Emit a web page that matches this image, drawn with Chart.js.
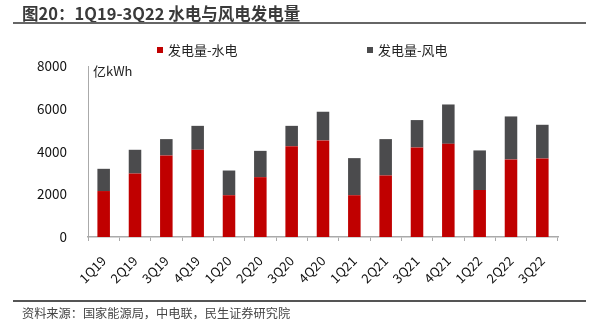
<!DOCTYPE html>
<html>
<head>
<meta charset="utf-8">
<script src="https://cdn.jsdelivr.net/npm/chart.js@4"></script>
<style>
  html, body { margin: 0; padding: 0; background: #fff; }
  body { width: 594px; height: 327px; position: relative; overflow: hidden;
         font-family: "Noto Sans CJK SC", "Noto Sans", sans-serif; }
  #wrap { position: absolute; left: 0; top: 0; width: 594px; height: 327px; }
  .title { position: absolute; left: 22px; top: 1px; font-size: 16.5px; font-weight: bold; color: #3a3a3a; white-space: nowrap; }
  .rule { position: absolute; left: 13px; width: 573px; background: #666; }
  .source { position: absolute; left: 22px; top: 304px; font-size: 12.2px; color: #444; white-space: nowrap; }
  .unit { position: absolute; left: 93px; top: 61px; font-size: 13px; color: #222; }
  .legend { position: absolute; top: 40px; font-size: 13px; color: #222; white-space: nowrap; }
  .legend i { display: inline-block; width: 6px; height: 6px; margin-right: 5px; vertical-align: 2px; }
</style>
</head>
<body>
<div id="wrap"><canvas id="myChart" width="594" height="327"></canvas></div>
<div class="title">图20：1Q19-3Q22 水电与风电发电量</div>
<div class="rule" style="top:22px;height:2px"></div>
<div class="legend" style="left:157px"><i style="background:#C00000"></i>发电量-水电</div>
<div class="legend" style="left:367px"><i style="background:#4B4B4D"></i>发电量-风电</div>
<div class="unit">亿kWh</div>
<div class="rule" style="top:300px;height:2px;background:#555"></div>
<div class="source">资料来源：国家能源局，中电联，民生证券研究院</div>
<script>
const ctx = document.getElementById('myChart').getContext('2d');

const quarters = ['1Q19', '2Q19', '3Q19', '4Q19', '1Q20', '2Q20', '3Q20', '4Q20',
  '1Q21', '2Q21', '3Q21', '4Q21', '1Q22', '2Q22', '3Q22'];
const hydro = [2150, 2970, 3815, 4080, 1955, 2800, 4250, 4520, 1955, 2880, 4190, 4360, 2200, 3630, 3675];
const wind = [1040, 1110, 765, 1120, 1155, 1230, 950, 1340, 1735, 1700, 1280, 1840, 1850, 2010, 1575];
const yTicks = [0, 2000, 4000, 6000, 8000];

const font = { family: '"Noto Sans CJK SC", "Noto Sans", sans-serif', size: 13.5 };

new Chart(ctx, {
  type: 'bar',
  data: {
    labels: quarters,
    datasets: [
      { label: '发电量-水电', data: hydro, backgroundColor: '#C00000' },
      { label: '发电量-风电', data: wind, backgroundColor: '#4B4B4D' }
    ]
  },
  options: {
    responsive: false,
    animation: false,
    layout: { padding: { top: 66, right: 36, bottom: 35, left: 0 } },
    plugins: { legend: { display: false }, tooltip: { enabled: false } },
    datasets: { bar: { categoryPercentage: 0.8, barPercentage: 0.5 } },
    scales: {
      x: {
        stacked: true,
        afterFit: s => { s.height = 55; },
        border: { color: '#aaa', width: 1.5 },
        grid: { display: true, drawOnChartArea: false, color: '#aaa', tickLength: 4, offset: true },
        ticks: { color: '#111', font: { ...font, size: 13 }, minRotation: 45, maxRotation: 45, padding: 12 }
      },
      y: {
        stacked: true,
        min: 0,
        max: 8000,
        afterFit: s => { s.width = 88; },
        afterBuildTicks: s => { s.ticks = yTicks.map(v => ({ value: v })); },
        border: { color: '#aaa', width: 1 },
        grid: { display: false },
        ticks: { color: '#111', font: font, padding: 13, callback: v => String(v) }
      }
    }
  }
});
</script>
</body>
</html>
